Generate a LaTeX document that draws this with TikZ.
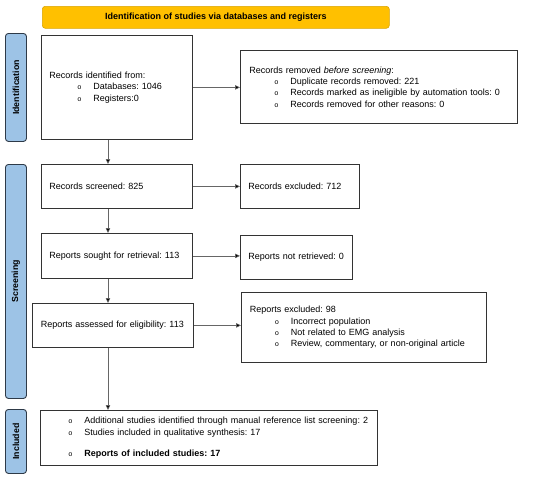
\documentclass[tikz,border=0pt]{standalone}
\usepackage{fontspec}
\setmainfont{Liberation Sans}
\newfontfamily\bulletfont{Liberation Mono}
\usetikzlibrary{arrows.meta}
\definecolor{bannerfill}{HTML}{FFC000}
\definecolor{bannerdraw}{HTML}{D9A400}
\definecolor{sidefill}{HTML}{9DC3E6}
\definecolor{sidedraw}{HTML}{2E3A48}
\definecolor{boxdraw}{HTML}{333333}
\definecolor{arrowgray}{HTML}{666666}
\newcommand{\bul}{\makebox[16pt][l]{{\bulletfont\fontsize{7}{9}\selectfont o}}}
\newcommand{\ind}[1]{\hspace*{#1}}
\frenchspacing
\tikzset{
  box/.style={draw=boxdraw, line width=0.8pt, fill=white, inner xsep=8pt, inner ysep=0pt, align=left, anchor=north west, font=\frenchspacing\fontsize{9}{11.3}\selectfont},
  side/.style={draw=sidedraw, line width=0.9pt, fill=sidefill, rounded corners=3pt, anchor=north west, minimum width=21pt, inner sep=0pt},
  sidelabel/.style={rotate=90, font=\bfseries\fontsize{8.8}{10}\selectfont},
  arr/.style={draw=arrowgray, line width=0.6pt, -{Triangle[length=5pt,width=4.5pt,fill=black]}},
}
\begin{document}
\begin{tikzpicture}[x=1pt,y=-1pt]
\useasboundingbox (0,0) rectangle (550,479);
% banner
\node[draw=bannerdraw, line width=0.6pt, fill=bannerfill, rounded corners=3pt, anchor=north west, minimum width=347pt, minimum height=22pt, inner sep=0pt, font=\bfseries\fontsize{9}{10}\selectfont] (banner) at (42,6) {Identification of studies via databases and registers};
% side bars
\node[side, minimum height=108pt] (sideid) at (5,33) {};
\node[sidelabel] (sideidl) at (sideid.center) {Identification};
\node[side, minimum height=234pt] (sidescr) at (5,164) {};
\node[sidelabel] (sidescrl) at (sidescr.center) {Screening};
\node[side, minimum height=64pt] (sideinc) at (5,409) {};
\node[sidelabel] (sideincl) at (sideinc.center) {Included};
% boxes
\node[box, minimum width=151pt, minimum height=104pt, text width=135pt] (ident) at (41,35)
 {Records identified from:\\
  \ind{28pt}\bul Databases: 1046\\
  \ind{28pt}\bul Registers:0};
\node[box, minimum width=277pt, minimum height=73pt, text width=259pt, inner xsep=9pt] (removed) at (240,50)
 {Records removed \textit{before screening}:\\
  \ind{25pt}\bul Duplicate records removed: 221\\
  \ind{25pt}\bul \mbox{Records marked as ineligible by automation tools: 0}\\
  \ind{25pt}\bul Records removed for other reasons: 0};
\node[box, minimum width=151pt, minimum height=44pt, text width=135pt] (screened) at (41,164) {Records screened: 825};
\node[box, minimum width=119pt, minimum height=44pt, text width=103pt] (excluded) at (240,164) {Records excluded: 712};
\node[box, minimum width=151pt, minimum height=45pt, text width=135pt] (sought) at (41,233) {\mbox{Reports sought for retrieval: 113}};
\node[box, minimum width=112pt, minimum height=44pt, text width=96pt] (notret) at (240,235) {\mbox{Reports not retrieved: 0}};
\node[box, minimum width=161pt, minimum height=44pt, text width=144pt, inner xsep=8.5pt] (assessed) at (32,303) {\mbox{Reports assessed for eligibility: 113}};
\node[box, minimum width=245pt, minimum height=70pt, text width=228pt, inner xsep=8.5pt] (repexcl) at (241,292)
 {Reports excluded: 98\\
  \ind{25pt}\bul Incorrect population\\
  \ind{25pt}\bul Not related to EMG analysis\\
  \ind{25pt}\bul \mbox{Review, commentary, or non-original article}};
\node[box, minimum width=337pt, minimum height=55pt, text width=321pt] (included) at (40,410)
 {\ind{20pt}\bul \mbox{Additional studies identified through manual reference list screening: 2}\\
  \ind{20pt}\bul Studies included in qualitative synthesis: 17\\[10pt]
  \ind{20pt}\bul \textbf{Reports of included studies: 17}};
% horizontal arrows
\draw[arr] (ident.east) -- (ident.east -| removed.west);
\draw[arr] (screened.east) -- (screened.east -| excluded.west);
\draw[arr] (sought.east) -- (sought.east -| notret.west);
\draw[arr] (assessed.east) -- (assessed.east -| repexcl.west);
% vertical arrows
\coordinate (c1) at ([xshift=67pt]ident.south west);
\draw[arr] (c1) -- (c1 |- screened.north);
\coordinate (c2) at ([xshift=67pt]screened.south west);
\draw[arr] (c2) -- (c2 |- sought.north);
\coordinate (c3) at ([xshift=67pt]sought.south west);
\draw[arr] (c3) -- (c3 |- assessed.north);
\coordinate (c4) at ([xshift=76pt]assessed.south west);
\draw[arr] (c4) -- (c4 |- included.north);
\end{tikzpicture}
\end{document}
